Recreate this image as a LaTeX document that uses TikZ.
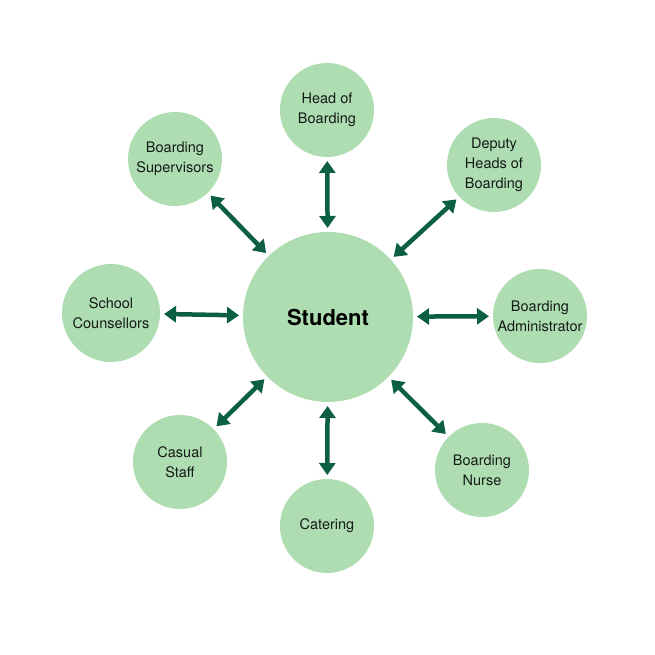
\documentclass[tikz,border=0pt]{standalone}
\usepackage{fontspec}
\setmainfont{TeX Gyre Heros}
\usetikzlibrary{arrows.meta}
\definecolor{ringgreen}{RGB}{173,221,177}
\definecolor{linkgreen}{RGB}{12,94,69}
\definecolor{inktext}{RGB}{22,26,24}
\tikzset{
  staff/.style={circle, fill=ringgreen, draw=none, minimum size=94pt, inner sep=0pt, outer sep=0pt,
    align=center, font=\fontsize{14.5}{20}\selectfont, text=inktext},
  hub/.style={circle, fill=ringgreen, draw=none, minimum size=170pt, inner sep=0pt, outer sep=0pt,
    font=\fontsize{22}{26}\selectfont\bfseries, text=black},
  link/.style={{Triangle[length=12pt,width=16pt]}-{Triangle[length=12pt,width=16pt]},
    line width=4.5pt, draw=linkgreen, shorten >=4pt, shorten <=4pt}
}
\begin{document}
\begin{tikzpicture}[x=1pt, y=-1pt]
  \useasboundingbox (0,0) rectangle (655,655);

  % Centre.
  \node[hub] (student) at (328,317) {Student};

  % Ring of staff.
  \node[staff] (head) at (327,110) {Head of\\Boarding};
  \node[staff] (deputy) at (494,165) {Deputy\\Heads of\\Boarding};
  \node[staff] (admin) at (540,316) {Boarding\\Administrator};
  \node[staff] (nurse) at (482,470) {Boarding\\Nurse};
  \node[staff] (catering) at (327,526) {Catering};
  \node[staff] (casual) at (180,462) {Casual\\Staff};
  \node[staff, minimum size=98pt] (counsel) at (111,313) {School\\Counsellors};
  \node[staff] (supervisors) at (175,159) {Boarding\\Supervisors};

  % Two-way links.
  \foreach \other in {head,deputy,admin,nurse,catering,casual,counsel,supervisors}
    \draw[link] (student) -- (\other);
\end{tikzpicture}
\end{document}
